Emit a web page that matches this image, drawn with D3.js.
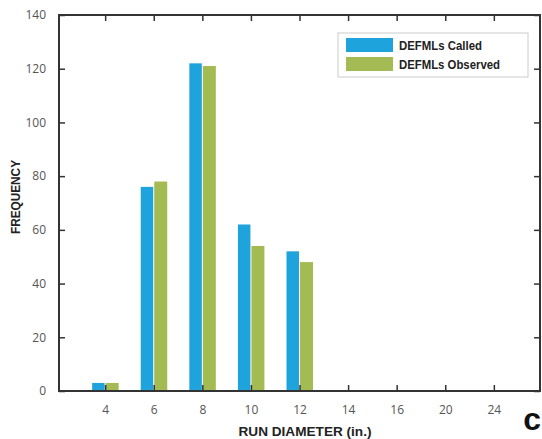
<!DOCTYPE html>
<html><head><meta charset="utf-8">
<script src="https://cdn.jsdelivr.net/npm/d3@7"></script>
<style>body{margin:0;background:#fff}</style>
</head><body>
<svg id="c" width="542" height="439"></svg>
<script>
(function(){
const categories = ["4","6","8","10","12","14","16","20","24"];
const called =   [3, 76, 122, 62, 52, null, null, null, null];
const observed = [3, 78, 121, 54, 48, null, null, null, null];
const yTicks = [0,20,40,60,80,100,120,140];
const seriesNames = ["DEFMLs Called","DEFMLs Observed"];
const colors = ["#1fa3dd","#a3bb52"];

const svg = d3.select("#c");
const L=59, R=540, T=15, B=391;
const x = d3.scalePoint().domain(categories).range([L,R]).padding(0.95);
const y = d3.scaleLinear().domain([0,140]).range([B,T]);
const bw = 13;
const tickFont = "'Open Sans', 'Liberation Sans', sans-serif";
const boldFont = "'Liberation Sans',Arial,sans-serif";

const g = svg.append("g");
[called, observed].forEach((arr,si)=>{
  g.selectAll(".b"+si).data(categories.map((c,i)=>({c,v:arr[i]})).filter(d=>d.v!=null))
   .enter().append("rect")
   .attr("x", d=> si===0 ? x(d.c)-bw : x(d.c)+0.5)
   .attr("width", si===0 ? bw-0.5 : bw)
   .attr("y", d=>y(d.v)).attr("height", d=>B-y(d.v))
   .attr("fill", colors[si]);
});

const axisColor="#333";
const axBottom = svg.append("g").attr("transform",`translate(0,${B})`)
  .call(d3.axisBottom(x).tickSizeInner(-6).tickSizeOuter(0).tickPadding(14));
const axLeft = svg.append("g").attr("transform",`translate(${L},0)`)
  .call(d3.axisLeft(y).tickValues(yTicks).tickSizeInner(-6).tickSizeOuter(0).tickPadding(13));
const axTop = svg.append("g").attr("transform",`translate(0,${T})`)
  .call(d3.axisTop(x).tickSizeInner(-6).tickSizeOuter(0).tickFormat(""));
const axRight = svg.append("g").attr("transform",`translate(${R},0)`)
  .call(d3.axisRight(y).tickValues(yTicks).tickSizeInner(-6).tickSizeOuter(0).tickFormat(""));
[axBottom,axLeft,axTop,axRight].forEach(a=>{
  a.selectAll("path.domain").remove();
  a.selectAll(".tick line").attr("stroke",axisColor).attr("stroke-width",1.5);
  a.selectAll(".tick text").attr("fill","#555").style("font-family",tickFont).style("font-size","12px");
});
svg.append("rect").attr("x",L).attr("y",T).attr("width",R-L).attr("height",B-T)
  .attr("fill","none").attr("stroke",axisColor).attr("stroke-width",2);

svg.append("text").attr("x",305).attr("y",436).attr("text-anchor","middle")
  .attr("textLength",133).attr("lengthAdjust","spacingAndGlyphs")
  .style("font-family",boldFont).style("font-weight","bold").style("font-size","13px").attr("fill","#222")
  .text("RUN DIAMETER (in.)");
svg.append("text").attr("transform","translate(20,197) rotate(-90)").attr("text-anchor","middle")
  .attr("textLength",74).attr("lengthAdjust","spacingAndGlyphs")
  .style("font-family",boldFont).style("font-weight","bold").style("font-size","12px").attr("fill","#222")
  .text("FREQUENCY");

const lg = svg.append("g");
lg.append("rect").attr("x",338).attr("y",33).attr("width",190).attr("height",44)
  .attr("fill","#fff").attr("stroke","#ccc").attr("stroke-width",1);
const lens = [83,101];
seriesNames.forEach((n,i)=>{
  lg.append("rect").attr("x",346).attr("y",38+i*19).attr("width",47).attr("height",14).attr("fill",colors[i]);
  lg.append("text").attr("x",399).attr("y",50+i*19)
    .attr("textLength",lens[i]).attr("lengthAdjust","spacingAndGlyphs")
    .style("font-family",boldFont).style("font-weight","bold").style("font-size","13px").attr("fill","#222").text(n);
});

svg.append("text").attr("x",541).attr("y",430).attr("text-anchor","end")
  .style("font-family","'Liberation Sans',Arial,sans-serif").style("font-weight","bold").style("font-size","32px")
  .attr("fill","#111").text("c");
})();
</script>
</body></html>
